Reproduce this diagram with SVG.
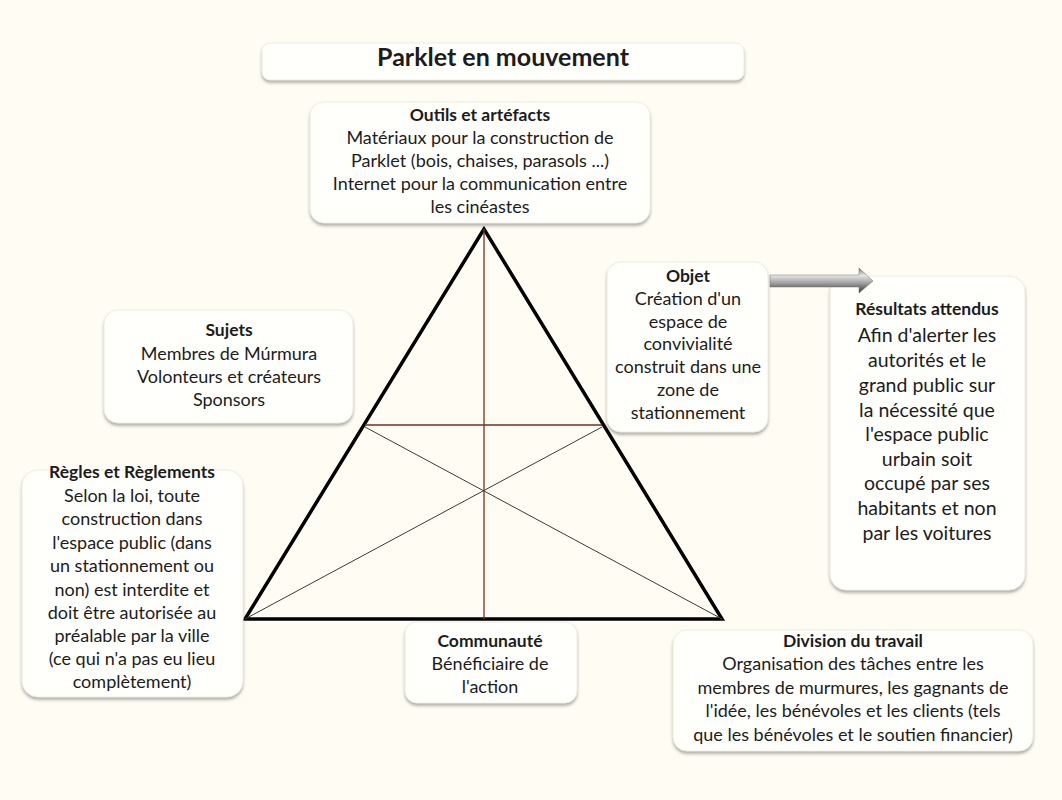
<svg xmlns="http://www.w3.org/2000/svg" width="1062" height="800" viewBox="0 0 1062 800">
<defs>
<filter id="sh" x="-10%" y="-10%" width="120%" height="130%">
<feDropShadow dx="0" dy="2.5" stdDeviation="1.5" flood-color="#6d6d6d" flood-opacity="0.55"/>
</filter>
<linearGradient id="ag" x1="0" y1="0" x2="0" y2="1">
<stop offset="0" stop-color="#7a7a7a"/>
<stop offset="0.3" stop-color="#e6e6e6"/>
<stop offset="0.6" stop-color="#a0a0a0"/>
<stop offset="1" stop-color="#383838"/>
</linearGradient>
<style>
.bg{fill:#fffdf3}
.box{fill:#fffffb;stroke:#ece8dc;stroke-width:0.8;filter:url(#sh)}
text{font-family:Lato,"Liberation Sans",sans-serif;fill:#1c1c1c;text-anchor:middle}
.t{font-size:18px}
.b{font-size:17.5px;font-weight:bold}
.r{font-size:19.5px}
.title{font-size:25px;font-weight:bold}
.tri{fill:none;stroke:#000;stroke-width:3.5;stroke-linejoin:miter}
.red{stroke:#7a2e1e;stroke-width:1.3}
.diag{stroke:#3a3a3a;stroke-width:1}
</style>
</defs>
<rect class="bg" x="0" y="0" width="1062" height="800"/>

<g id="triangle">
<polygon class="tri" points="484,229 245,619 722,619"/>
<line class="red" x1="484" y1="229" x2="484" y2="619"/>
<line class="red" x1="365" y1="425" x2="602" y2="425"/>
<line class="diag" x1="365" y1="427" x2="722" y2="619"/>
<line class="diag" x1="602" y1="427" x2="245" y2="619"/>
</g>

<g id="title">
<rect class="box" x="262" y="43" width="482" height="37" rx="8"/>
<text class="title" x="503" y="66">Parklet en mouvement</text>
</g>

<g id="outils">
<rect class="box" x="310" y="102" width="340" height="121" rx="14"/>
<text class="b" x="480" y="121">Outils et artéfacts</text>
<text class="t" x="480" y="144">Matériaux pour la construction de</text>
<text class="t" x="480" y="167">Parklet (bois, chaises, parasols ...)</text>
<text class="t" x="480" y="190">Internet pour la communication entre</text>
<text class="t" x="480" y="213">les cinéastes</text>
</g>

<g id="sujets">
<rect class="box" x="104" y="310" width="249" height="113" rx="14"/>
<text class="b" x="229" y="336">Sujets</text>
<text class="t" x="229" y="360">Membres de Múrmura</text>
<text class="t" x="229" y="383">Volonteurs et créateurs</text>
<text class="t" x="229" y="406">Sponsors</text>
</g>

<g id="objet">
<rect class="box" x="607" y="262" width="161" height="170" rx="14"/>
<text class="b" x="688" y="282">Objet</text>
<text class="t" x="688" y="305">Création d'un</text>
<text class="t" x="688" y="328">espace de</text>
<text class="t" x="688" y="350">convivialité</text>
<text class="t" x="688" y="373">construit dans une</text>
<text class="t" x="688" y="396">zone de</text>
<text class="t" x="688" y="419">stationnement</text>
</g>

<g id="resultats">
<rect class="box" x="830" y="276" width="195" height="314" rx="16"/>
<text class="b" x="927" y="315">Résultats attendus</text>
<text class="r" x="927" y="342">Afin d'alerter les</text>
<text class="r" x="927" y="367">autorités et le</text>
<text class="r" x="927" y="392">grand public sur</text>
<text class="r" x="927" y="417">la nécessité que</text>
<text class="r" x="927" y="441">l'espace public</text>
<text class="r" x="927" y="466">urbain soit</text>
<text class="r" x="927" y="490">occupé par ses</text>
<text class="r" x="927" y="515">habitants et non</text>
<text class="r" x="927" y="540">par les voitures</text>
</g>

<g id="regles">
<rect class="box" x="22" y="470" width="221" height="227" rx="16"/>
<text class="b" x="132" y="478">Règles et Règlements</text>
<text class="t" x="132" y="502">Selon la loi, toute</text>
<text class="t" x="132" y="525">construction dans</text>
<text class="t" x="132" y="549">l'espace public (dans</text>
<text class="t" x="132" y="572">un stationnement ou</text>
<text class="t" x="132" y="596">non) est interdite et</text>
<text class="t" x="132" y="619">doit être autorisée au</text>
<text class="t" x="132" y="642">préalable par la ville</text>
<text class="t" x="132" y="665">(ce qui n'a pas eu lieu</text>
<text class="t" x="132" y="688">complètement)</text>
</g>

<g id="communaute">
<rect class="box" x="405" y="622" width="172" height="81" rx="12"/>
<text class="b" x="490" y="647">Communauté</text>
<text class="t" x="490" y="670">Bénéficiaire de</text>
<text class="t" x="490" y="693">l'action</text>
</g>

<g id="division">
<rect class="box" x="673" y="630" width="360" height="121" rx="14"/>
<text class="b" x="853" y="647">Division du travail</text>
<text class="t" x="853" y="670">Organisation des tâches entre les</text>
<text class="t" x="853" y="694">membres de murmures, les gagnants de</text>
<text class="t" x="853" y="717">l'idée, les bénévoles et les clients (tels</text>
<text class="t" x="853" y="741">que les bénévoles et le soutien financier)</text>
</g>

<g id="connectors">
<path d="M770,275 L859,275 L859,268 L873,281 L859,293 L859,287 L770,287 Z" fill="url(#ag)" stroke="#6f6f6f" stroke-width="0.5"/>
</g>
</svg>
